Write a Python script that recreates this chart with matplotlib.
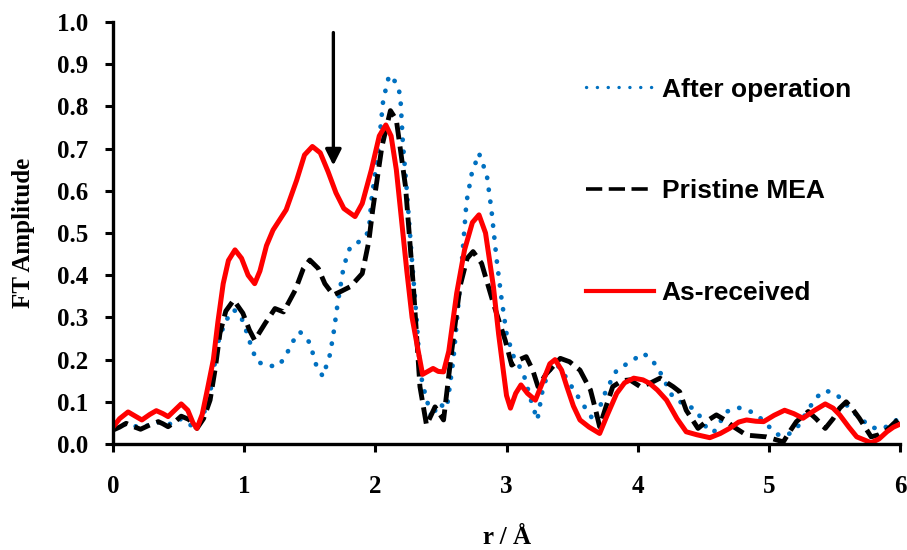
import matplotlib
matplotlib.use("Agg")
import matplotlib.pyplot as plt
from matplotlib.lines import Line2D

# ---------------- data ----------------
red_x = [0.00, 0.05, 0.115, 0.17, 0.22, 0.28, 0.33, 0.38, 0.42, 0.47, 0.52, 0.57, 0.61, 0.64, 0.68,
         0.72, 0.765, 0.80, 0.84, 0.88, 0.93, 0.98, 1.03, 1.08, 1.12, 1.17, 1.22, 1.32, 1.40, 1.46,
         1.52, 1.58, 1.64, 1.70, 1.76, 1.845, 1.90, 1.97, 2.03, 2.08, 2.12, 2.16, 2.20, 2.24, 2.28,
         2.33, 2.36, 2.40, 2.44, 2.48, 2.52, 2.56, 2.62, 2.68, 2.74, 2.79, 2.84, 2.90, 2.94, 2.975,
         3.00, 3.03, 3.07, 3.11, 3.16, 3.22, 3.28, 3.33, 3.37, 3.42, 3.46, 3.51, 3.56, 3.63, 3.71,
         3.77, 3.84, 3.90, 3.97, 4.04, 4.09, 4.15, 4.22, 4.30, 4.37, 4.45, 4.55, 4.63, 4.70, 4.77,
         4.83, 4.90, 4.96, 5.04, 5.12, 5.19, 5.26, 5.35, 5.43, 5.49, 5.54, 5.61, 5.67, 5.78, 5.84,
         5.90, 5.95, 6.00]
red_y = [0.040, 0.060, 0.076, 0.066, 0.057, 0.070, 0.079, 0.072, 0.065, 0.080, 0.095, 0.080, 0.050, 0.037, 0.070,
         0.130, 0.200, 0.290, 0.380, 0.435, 0.460, 0.440, 0.400, 0.380, 0.410, 0.470, 0.507, 0.555, 0.625, 0.685,
         0.705, 0.690, 0.645, 0.595, 0.558, 0.539, 0.570, 0.650, 0.730, 0.756, 0.730, 0.650, 0.530, 0.410, 0.300,
         0.215, 0.165, 0.172, 0.179, 0.172, 0.171, 0.220, 0.357, 0.460, 0.525, 0.543, 0.500, 0.373, 0.260, 0.175,
         0.115, 0.085, 0.120, 0.140, 0.120, 0.104, 0.150, 0.190, 0.200, 0.175, 0.136, 0.090, 0.057, 0.040, 0.025,
         0.070, 0.120, 0.145, 0.156, 0.152, 0.144, 0.128, 0.104, 0.060, 0.029, 0.022, 0.015, 0.025, 0.037, 0.052,
         0.057, 0.054, 0.053, 0.068, 0.080, 0.072, 0.061, 0.080, 0.095, 0.085, 0.069, 0.040, 0.017, 0.003, 0.012,
         0.029, 0.040, 0.047]

black_x = [0.00, 0.05, 0.10, 0.15, 0.21, 0.28, 0.345, 0.38, 0.42, 0.47, 0.52, 0.58, 0.64, 0.69, 0.74,
           0.78, 0.815, 0.86, 0.92, 0.99, 1.04, 1.08, 1.16, 1.235, 1.30, 1.39, 1.45, 1.50, 1.565, 1.615,
           1.68, 1.74, 1.81, 1.90, 1.95, 1.98, 2.05, 2.115, 2.16, 2.23, 2.29, 2.34, 2.39, 2.455, 2.52,
           2.58, 2.645, 2.70, 2.745, 2.81, 2.90, 2.99, 3.04, 3.10, 3.15, 3.20, 3.24, 3.30, 3.41, 3.48,
           3.56, 3.64, 3.68, 3.71, 3.76, 3.81, 3.88, 3.94, 4.02, 4.10, 4.17, 4.27, 4.32, 4.37, 4.46,
           4.53, 4.60, 4.66, 4.73, 4.83, 4.98, 5.11, 5.16, 5.21, 5.30, 5.36, 5.43, 5.49, 5.54, 5.59,
           5.64, 5.69, 5.78, 5.84, 5.90, 5.95, 6.00]
black_y = [0.033, 0.040, 0.049, 0.042, 0.035, 0.045, 0.053, 0.048, 0.041, 0.052, 0.066, 0.058, 0.037, 0.060, 0.104,
           0.180, 0.262, 0.315, 0.341, 0.310, 0.270, 0.246, 0.286, 0.321, 0.313, 0.365, 0.415, 0.436, 0.416, 0.380,
           0.353, 0.362, 0.373, 0.404, 0.480, 0.555, 0.705, 0.790, 0.768, 0.610, 0.373, 0.136, 0.045, 0.088, 0.057,
           0.215, 0.373, 0.440, 0.456, 0.428, 0.333, 0.246, 0.187, 0.200, 0.207, 0.175, 0.136, 0.165, 0.203, 0.195,
           0.175, 0.128, 0.080, 0.041, 0.090, 0.136, 0.150, 0.152, 0.136, 0.145, 0.156, 0.136, 0.124, 0.080, 0.037,
           0.055, 0.069, 0.058, 0.041, 0.021, 0.017, 0.005, 0.030, 0.053, 0.077, 0.060, 0.037, 0.060, 0.085, 0.100,
           0.082, 0.061, 0.017, 0.022, 0.033, 0.048, 0.062]

blue_x = [0.00, 0.05, 0.10, 0.16, 0.22, 0.28, 0.345, 0.42, 0.50, 0.55, 0.59, 0.64, 0.69, 0.74, 0.80,
          0.855, 0.92, 0.97, 1.005, 1.065, 1.10, 1.18, 1.26, 1.32, 1.355, 1.425, 1.50, 1.55, 1.60, 1.655,
          1.685, 1.71, 1.755, 1.78, 1.81, 1.88, 1.95, 1.97, 2.02, 2.06, 2.105, 2.16, 2.19, 2.21, 2.24,
          2.275, 2.315, 2.34, 2.365, 2.43, 2.48, 2.545, 2.595, 2.645, 2.695, 2.735, 2.79, 2.85, 2.885, 2.925,
          2.96, 3.00, 3.05, 3.10, 3.14, 3.19, 3.235, 3.28, 3.33, 3.38, 3.43, 3.48, 3.57, 3.67, 3.76,
          3.84, 3.97, 4.04, 4.10, 4.16, 4.27, 4.35, 4.44, 4.49, 4.53, 4.58, 4.63, 4.68, 4.77, 4.855,
          4.93, 4.995, 5.06, 5.13, 5.21, 5.31, 5.36, 5.43, 5.515, 5.64, 5.78, 5.87, 5.94, 6.00]
blue_y = [0.035, 0.042, 0.048, 0.043, 0.038, 0.046, 0.052, 0.045, 0.060, 0.055, 0.045, 0.040, 0.070, 0.120, 0.240,
          0.290, 0.318, 0.306, 0.278, 0.221, 0.195, 0.185, 0.185, 0.209, 0.236, 0.266, 0.240, 0.186, 0.160, 0.213,
          0.270, 0.327, 0.414, 0.442, 0.468, 0.480, 0.503, 0.578, 0.689, 0.815, 0.874, 0.856, 0.827, 0.712, 0.600,
          0.452, 0.294, 0.175, 0.136, 0.061, 0.096, 0.085, 0.200, 0.373, 0.574, 0.641, 0.689, 0.637, 0.555, 0.436,
          0.349, 0.262, 0.210, 0.183, 0.156, 0.100, 0.057, 0.136, 0.175, 0.190, 0.170, 0.144, 0.100, 0.053, 0.128,
          0.175, 0.200, 0.215, 0.203, 0.177, 0.110, 0.095, 0.082, 0.058, 0.035, 0.028, 0.053, 0.077, 0.086, 0.078,
          0.063, 0.043, 0.023, 0.019, 0.036, 0.086, 0.110, 0.127, 0.118, 0.077, 0.039, 0.036, 0.050, 0.062]

labels = ["After operation", "Pristine MEA", "As-received"]
x_ticks = [0, 1, 2, 3, 4, 5, 6]
y_ticks = [0.0, 0.1, 0.2, 0.3, 0.4, 0.5, 0.6, 0.7, 0.8, 0.9, 1.0]
arrow_x = 1.68
arrow_y_top = 0.975
arrow_y_tip = 0.66

BLUE = "#0070C0"
RED = "#FF0000"

# ---------------- plot ----------------
fig = plt.figure(figsize=(9.07, 5.5), dpi=100)
ax = fig.add_axes([0.1246, 0.1927, 0.8677, 0.7673])

ax.plot(blue_x, blue_y, color=BLUE, lw=3.4, linestyle=(0, (0.05, 2.5)),
        dash_capstyle="round")
ax.plot(black_x, black_y, color="black", lw=3.5, linestyle=(0, (3.4, 1.5)))
ax.plot(red_x, red_y, color=RED, lw=3.6)

ax.annotate("", xy=(arrow_x, arrow_y_tip), xytext=(arrow_x, arrow_y_top),
            arrowprops=dict(arrowstyle="-|>", color="black", lw=2.4,
                            mutation_scale=24, shrinkA=0, shrinkB=0))

ax.set_xlim(0, 6)
ax.set_ylim(0, 1.0)
ax.set_xticks(x_ticks)
ax.set_yticks(y_ticks)
ax.set_xticklabels([str(v) for v in x_ticks])
ax.set_yticklabels([f"{v:.1f}" for v in y_ticks])

for s in ["top", "right"]:
    ax.spines[s].set_visible(False)
for s in ["left", "bottom"]:
    ax.spines[s].set_linewidth(2.4)

ax.tick_params(axis="both", direction="out", length=6, width=2.2)
ax.tick_params(axis="y", pad=12)
ax.tick_params(axis="x", pad=16)
for lab in ax.get_xticklabels() + ax.get_yticklabels():
    lab.set_fontfamily("Liberation Serif")
    lab.set_fontweight("bold")
    lab.set_fontsize(18)

ax.set_xlabel("r / Å", fontfamily="Liberation Serif", fontweight="bold", fontsize=18)
ax.set_ylabel("FT Amplitude", fontfamily="Liberation Serif", fontweight="bold", fontsize=18)
ax.xaxis.set_label_coords(0.5, -0.195)
ax.yaxis.set_label_coords(-0.099, 0.5)

handles = [
    Line2D([], [], color=BLUE, lw=2.4, linestyle=(0, (0.05, 3.2)), dash_capstyle="round"),
    Line2D([], [], color="black", lw=2.6, linestyle=(0, (4.5, 1.8))),
    Line2D([], [], color=RED, lw=3.0),
]
leg = ax.legend(handles, labels, loc="upper left", bbox_to_anchor=(0.588, 0.893), frameon=False,
                prop=dict(family="Liberation Sans", weight="bold", size=19),
                handlelength=2.55, handletextpad=0.3, labelspacing=2.94, borderaxespad=0)

fig.savefig("out.png", dpi=100)
